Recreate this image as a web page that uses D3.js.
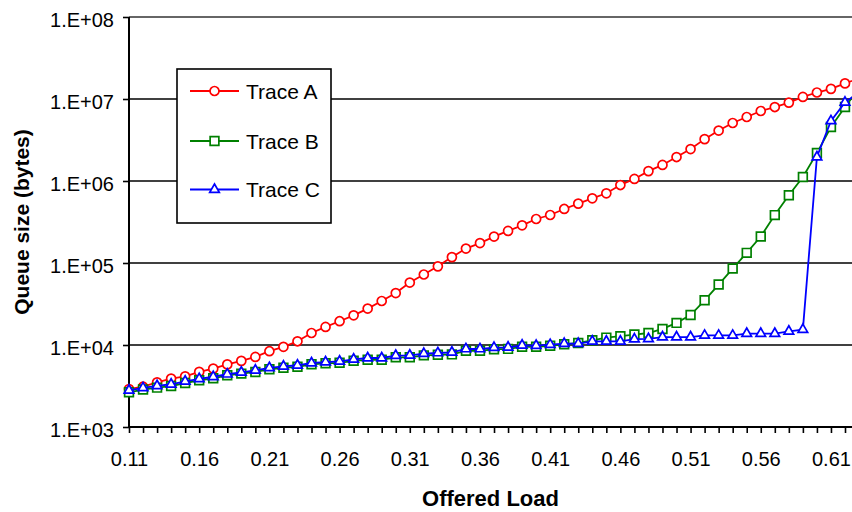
<!DOCTYPE html>
<html>
<head>
<meta charset="utf-8">
<script src="https://cdn.jsdelivr.net/npm/d3@7"></script>
<style>
    body { margin: 0; background: #fff; }
    svg { display: block; font-family: "Liberation Sans", Arial, sans-serif; }
</style>
</head>
<body>
<div class="chart-container"></div>
<script>
// offered load categories (last one sits just past the right edge of the picture)
const loads = [0.11, 0.12, 0.13, 0.14, 0.15, 0.16, 0.17, 0.18, 0.19, 0.20,
    0.21, 0.22, 0.23, 0.24, 0.25, 0.26, 0.27, 0.28, 0.29, 0.30,
    0.31, 0.32, 0.33, 0.34, 0.35, 0.36, 0.37, 0.38, 0.39, 0.40,
    0.41, 0.42, 0.43, 0.44, 0.45, 0.46, 0.47, 0.48, 0.49, 0.50,
    0.51, 0.52, 0.53, 0.54, 0.55, 0.56, 0.57, 0.58, 0.59, 0.60,
    0.61, 0.62, 0.63];

const traceA = [2900, 3100, 3500, 3900, 4150, 4700, 5150, 5800, 6400, 7150,
    8400, 9500, 11100, 14000, 16600, 19500, 23000, 27800, 34400, 43000,
    57700, 72400, 91000, 118000, 150000, 175000, 210000, 246000, 288000, 344000,
    385000, 456000, 530000, 615000, 708000, 893000, 1060000, 1320000, 1570000, 1960000,
    2450000, 3240000, 4120000, 5100000, 6030000, 7140000, 7980000, 9040000, 10600000, 12000000,
    13300000, 15500000, 17900000];

const traceB = [2650, 2860, 3020, 3160, 3440, 3710, 3930, 4270, 4480, 4690,
    5060, 5270, 5420, 5820, 5980, 6070, 6420, 6600, 6600, 7080,
    7080, 7480, 7590, 7680, 8500, 8500, 8870, 8970, 9510, 9510,
    9780, 10200, 10600, 11400, 12300, 12800, 13400, 14000, 15700, 18600,
    23200, 35100, 54600, 85500, 133000, 210000, 384000, 670000, 1120000, 2190000,
    4560000, 7980000, 13500000];

const traceC = [2800, 3000, 3180, 3320, 3610, 3870, 4100, 4400, 4650, 4910,
    5270, 5500, 5660, 6030, 6200, 6330, 6690, 6940, 6940, 7430,
    7490, 7850, 7990, 8150, 8940, 8940, 9290, 9380, 9910, 9850,
    10100, 10400, 10400, 11100, 11100, 11100, 11800, 11900, 12500, 12500,
    12500, 13100, 13100, 13100, 13800, 13800, 13800, 14700, 15400, 1960000,
    5400000, 9100000, 12000000];

const xTickLabels = ["0.11", "0.16", "0.21", "0.26", "0.31", "0.36", "0.41", "0.46", "0.51", "0.56", "0.61"];
const yTicks = [1e3, 1e4, 1e5, 1e6, 1e7, 1e8];
const yTickLabels = ["1.E+03", "1.E+04", "1.E+05", "1.E+06", "1.E+07", "1.E+08"];

const seriesNames = ["Trace A", "Trace B", "Trace C"];
const seriesColors = ["#ff0000", "#008000", "#0000ff"];

const width = 852;
const height = 512;
const plot = { left: 129, top: 17, right: 845, bottom: 427 };

const x = d3.scaleLinear()
    .domain([0.11, 0.62])
    .range([plot.left, plot.right]);

const y = d3.scaleLog()
    .domain([1e3, 1e8])
    .range([plot.bottom, plot.top]);

const svg = d3.select(".chart-container").append("svg")
    .attr("width", width)
    .attr("height", height);

// horizontal gridlines at each decade
svg.append("g")
    .selectAll("line")
    .data(yTicks.slice(1))
    .enter()
    .append("line")
    .attr("x1", plot.left)
    .attr("x2", width)
    .attr("y1", d => y(d))
    .attr("y2", d => y(d))
    .attr("stroke", (d, i) => i === yTicks.length - 2 ? "#333" : "#000")
    .attr("stroke-width", 1.6);

// x axis: a tick per category, label every fifth
const xAxis = d3.axisBottom(x)
    .tickValues(loads)
    .tickSize(6)
    .tickPadding(19)
    .tickFormat(d => {
        const s = d.toFixed(2);
        return xTickLabels.includes(s) ? s : "";
    });

const gx = svg.append("g")
    .attr("transform", `translate(0,${plot.bottom})`)
    .call(xAxis);
gx.select(".domain").remove();
gx.selectAll(".tick line").attr("stroke", "#000").attr("stroke-width", 1.6);
gx.selectAll(".tick text")
    .attr("fill", "#000")
    .style("font-size", "20px")
    .attr("dy", "0.72em");
gx.append("line")
    .attr("x1", plot.left)
    .attr("x2", width)
    .attr("stroke", "#000")
    .attr("stroke-width", 2);

// y axis (log)
const yAxis = d3.axisLeft(y)
    .tickValues(yTicks)
    .tickSize(6)
    .tickPadding(9)
    .tickFormat((d, i) => yTickLabels[i]);

const gy = svg.append("g")
    .attr("transform", `translate(${plot.left},0)`)
    .call(yAxis);
gy.select(".domain").remove();
gy.selectAll(".tick line").attr("stroke", "#000").attr("stroke-width", 1.6);
gy.selectAll(".tick text")
    .attr("fill", "#000")
    .style("font-size", "20px")
    .attr("dy", "0.45em");
gy.append("line")
    .attr("y1", plot.top)
    .attr("y2", plot.bottom)
    .attr("stroke", "#000")
    .attr("stroke-width", 2);

// axis titles
svg.append("text")
    .attr("x", (plot.left + width) / 2)
    .attr("y", 506)
    .attr("text-anchor", "middle")
    .style("font-size", "22px")
    .style("font-weight", "bold")
    .text("Offered Load");

svg.append("text")
    .attr("transform", `translate(29,${(plot.top + plot.bottom) / 2}) rotate(-90)`)
    .attr("text-anchor", "middle")
    .style("font-size", "21px")
    .style("font-weight", "bold")
    .text("Queue size (bytes)");

// markers
const drawMarker = (sel, k) => {
    if (k === 0) {
        sel.append("circle").attr("r", 4.5);
    } else if (k === 1) {
        sel.append("path").attr("d", d3.symbol(d3.symbolSquare, 76)());
    } else {
        sel.append("path").attr("d", d3.symbol(d3.symbolTriangle, 40)());
    }
    sel.selectAll("circle, path")
        .attr("fill", "#fff")
        .attr("stroke", seriesColors[k])
        .attr("stroke-width", 1.7);
};

const series = [traceA, traceB, traceC];

const line = d3.line()
    .x((d, i) => x(loads[i]))
    .y(d => y(d));

series.forEach((values, k) => {
    const g = svg.append("g").attr("class", "series");
    g.append("path")
        .datum(values)
        .attr("d", line)
        .attr("fill", "none")
        .attr("stroke", seriesColors[k])
        .attr("stroke-width", 1.8);
    g.selectAll(".pt")
        .data(values)
        .enter()
        .append("g")
        .attr("class", "pt")
        .attr("transform", (d, i) => `translate(${x(loads[i])},${y(d)})`)
        .each(function () { drawMarker(d3.select(this), k); });
});

// legend
const legend = svg.append("g");
legend.append("rect")
    .attr("x", 177)
    .attr("y", 69)
    .attr("width", 154)
    .attr("height", 154)
    .attr("fill", "#fff")
    .attr("stroke", "#000")
    .attr("stroke-width", 1.6);

const legendY = [91, 141, 189.5];
seriesNames.forEach((name, k) => {
    const row = legend.append("g").attr("transform", `translate(0,${legendY[k]})`);
    row.append("line")
        .attr("x1", 190)
        .attr("x2", 239)
        .attr("stroke", seriesColors[k])
        .attr("stroke-width", 1.8);
    drawMarker(row.append("g").attr("transform", "translate(214.5,0)"), k);
    row.append("text")
        .attr("x", 246)
        .attr("dy", "0.36em")
        .style("font-size", "21px")
        .text(name);
});
</script>
</body>
</html>
